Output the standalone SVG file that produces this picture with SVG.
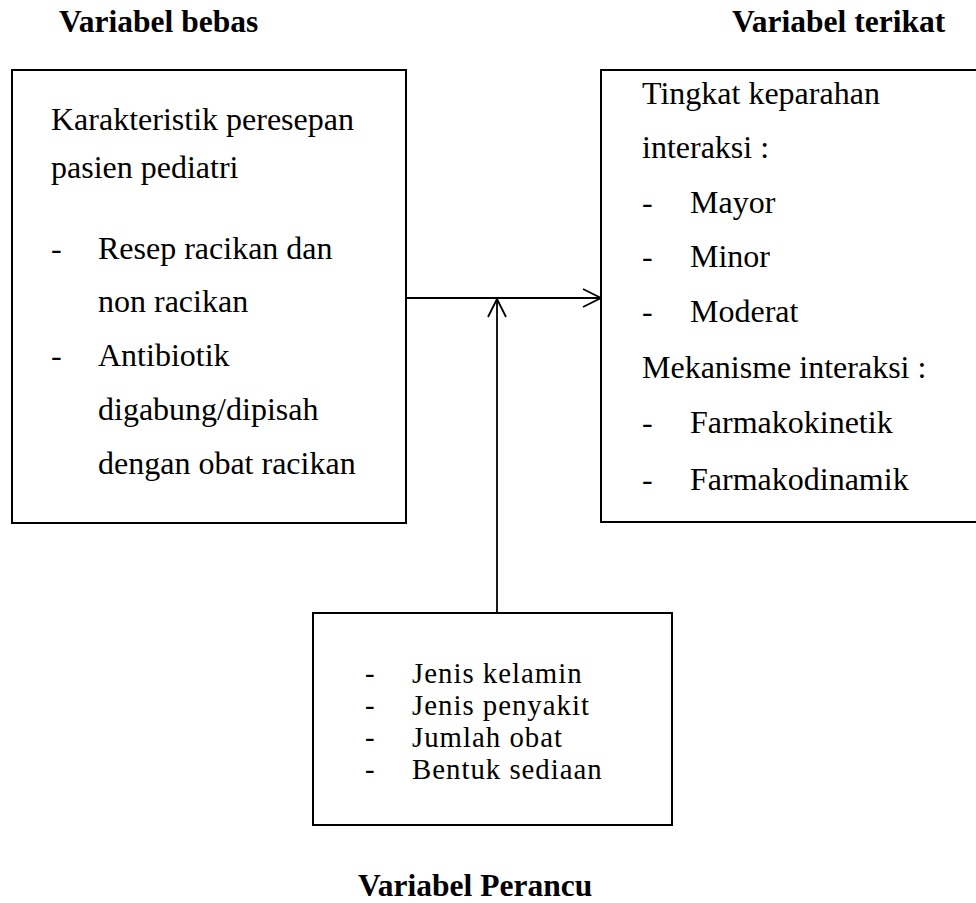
<svg xmlns="http://www.w3.org/2000/svg" width="976" height="903" viewBox="0 0 976 903">
<style>
  .box { fill: #ffffff; stroke: #000000; stroke-width: 2; }
  .t { font-family: "Liberation Serif", "Times New Roman", serif; font-size: 32px; fill: #000000; }
  .s { font-family: "Liberation Serif", "Times New Roman", serif; font-size: 28.8px; letter-spacing: 1px; fill: #000000; }
  .h { font-family: "Liberation Serif", "Times New Roman", serif; font-size: 31.5px; font-weight: bold; fill: #000000; }
  .conn { fill: none; stroke: #000000; stroke-width: 1.8; }
</style>
<defs>
  <marker id="arrow" viewBox="0 0 20 20" refX="19" refY="10" markerWidth="20" markerHeight="20" markerUnits="userSpaceOnUse" orient="auto">
    <path d="M1,1 L19,10 L1,19" fill="none" stroke="#000000" stroke-width="1.8"/>
  </marker>
</defs>
<rect width="976" height="903" fill="#ffffff"/>

<g id="label-bebas"><text class="h" x="59" y="32">Variabel bebas</text></g>
<g id="label-terikat"><text class="h" x="732" y="32">Variabel terikat</text></g>
<g id="label-perancu"><text class="h" x="358" y="896">Variabel Perancu</text></g>

<g id="node-bebas">
  <rect class="box" x="12" y="70" width="394" height="453"/>
  <text class="t" x="51" y="130">Karakteristik peresepan</text>
  <text class="t" x="51" y="178">pasien pediatri</text>
  <text class="t" x="51" y="259">-</text>
  <text class="t" x="98" y="259">Resep racikan dan</text>
  <text class="t" x="98" y="312">non racikan</text>
  <text class="t" x="51" y="366">-</text>
  <text class="t" x="98" y="366">Antibiotik</text>
  <text class="t" x="98" y="420">digabung/dipisah</text>
  <text class="t" x="98" y="474">dengan obat racikan</text>
</g>

<g id="node-terikat">
  <rect class="box" x="601" y="70" width="400" height="452"/>
  <text class="t" x="642" y="104">Tingkat keparahan</text>
  <text class="t" x="642" y="158">interaksi :</text>
  <text class="t" x="642" y="213">-</text>
  <text class="t" x="690" y="213">Mayor</text>
  <text class="t" x="642" y="267">-</text>
  <text class="t" x="690" y="267">Minor</text>
  <text class="t" x="642" y="322">-</text>
  <text class="t" x="690" y="322">Moderat</text>
  <text class="t" x="642" y="378">Mekanisme interaksi :</text>
  <text class="t" x="642" y="433">-</text>
  <text class="t" x="690" y="433">Farmakokinetik</text>
  <text class="t" x="642" y="490">-</text>
  <text class="t" x="690" y="490">Farmakodinamik</text>
</g>

<g id="node-perancu">
  <rect class="box" x="313" y="613" width="359" height="212"/>
  <text class="s" x="365" y="683">-</text>
  <text class="s" x="412" y="683">Jenis kelamin</text>
  <text class="s" x="365" y="715">-</text>
  <text class="s" x="412" y="715">Jenis penyakit</text>
  <text class="s" x="365" y="747">-</text>
  <text class="s" x="412" y="747">Jumlah obat</text>
  <text class="s" x="365" y="779">-</text>
  <text class="s" x="412" y="779">Bentuk sediaan</text>
</g>

<g id="connectors">
  <line class="conn" x1="406" y1="298" x2="601" y2="298" marker-end="url(#arrow)"/>
  <line class="conn" x1="497" y1="613" x2="497" y2="299" marker-end="url(#arrow)"/>
</g>
</svg>
